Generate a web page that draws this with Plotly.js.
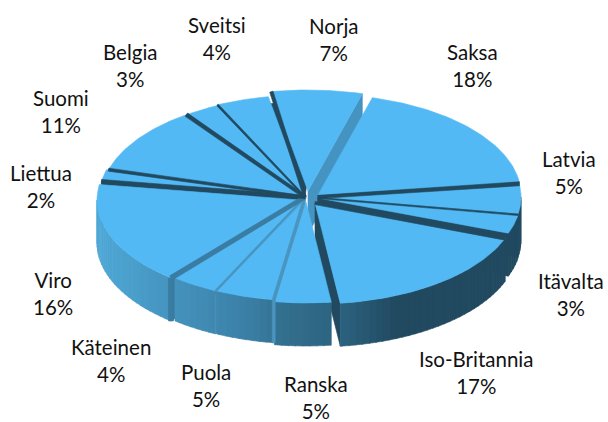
<!DOCTYPE html>
<html><head><meta charset="utf-8">
<script src="https://cdn.plot.ly/plotly-3.0.1.min.js"></script>
<style>html,body{margin:0;padding:0;background:#fff}</style></head>
<body><div id="c" style="width:608px;height:422px"></div>
<script>
// data
const categories = ["Norja","Saksa","Latvia","Itävalta","Iso-Britannia","Ranska","Puola","Käteinen","Viro","Liettua","Suomi","Belgia","Sveitsi"];
const percentLabels = [7,18,5,3,17,5,5,4,16,2,11,3,4];
const shares = [7.2,18.6,4.75,3.0,17.35,4.45,4.7,3.8,16.5,1.9,10.8,2.75,4.2];

// drawing style
const labelX = [334,472,569,571,476,316,206,111,53,41,61,130,217];
const labelY = [39,65,172,294,372,397,385,360,293,186,111,65,38];
const originX = [308,318,318,318,315,306,305,304,300,302,304,304,305];
const originY = [191,195,197,198,203,202,200,200,200,197,197,197,196];
const gapWidth = [3.5,0,4,1.5,4,0,3,2,5,4,3,4,2];
const startAngle = -10.4, rx = 203, ry = 101, depth = 43;
const hub = [305,197];
const topColor = "#52b9f4";
const stops = [[97,[79,168,214]],[250,[58,126,165]],[280,[51,112,143]],[340,[44,98,128]],[395,[33,74,97]],[608,[33,74,97]]];

function rimColor(x){
  for(let i=1;i<stops.length;i++){
    if(x<=stops[i][0]){
      const [x0,c0]=stops[i-1],[x1,c1]=stops[i];
      const t=Math.max(0,(x-x0)/(x1-x0));
      return "rgb("+c0.map((v,k)=>Math.round(v+(c1[k]-v)*t)).join(",")+")";
    }
  }
  return "rgb(33,74,97)";
}
function faceColor(a){
  a=((a%360)+360)%360;
  if(a<60) return "#4593c0";
  if(a<180) return "#214a61";
  if(a<212) return "#4a94bf";
  if(a<240) return "#3a7ca2";
  return "#214a61";
}
const rad=d=>d*Math.PI/180;
const total=shares.reduce((a,b)=>a+b,0);
let ang=startAngle;
const slices=categories.map((n,i)=>{
  const a0=ang,a1=ang+shares[i]/total*360; ang=a1;
  return {i,a0,a1,m:(a0+a1)/2,ox:originX[i],oy:originY[i]};
});
const order=slices.slice().sort((p,q)=>(-Math.cos(rad(p.m)))-(-Math.cos(rad(q.m))));

const traces=[];
function poly(xs,ys,color){
  traces.push({type:"scatter",mode:"lines",x:xs.concat(xs[0]),y:ys.concat(ys[0]),fill:"toself",fillcolor:color,
    line:{color:color,width:0.6},hoverinfo:"skip",showlegend:false});
}
// dark backing behind the rear slices, so that the gaps between them read as side faces
{
  const xs=[hub[0]],ys=[hub[1]];
  for(let a=-90;a<=5;a+=2){xs.push(hub[0]+(rx-6)*Math.sin(rad(a)));ys.push(hub[1]-(ry-6)*Math.cos(rad(a)));}
  poly(xs,ys,"#214a61");
}
const px=(s,a)=>s.ox+rx*Math.sin(rad(a)), py=(s,a)=>s.oy-ry*Math.cos(rad(a));
for(const s of order){
  // radial side face that looks at the viewer
  const faces=[];
  if(s.a1<=180) faces.push(s.a1);
  if(s.a0>=180) faces.push(s.a0);
  for(const a of faces){
    poly([s.ox,px(s,a),px(s,a),s.ox],[s.oy,py(s,a),py(s,a)+depth,s.oy+depth],faceColor(a));
  }
  // outer rim, visible on the front half only
  const lo=Math.max(s.a0,90), hi=Math.min(s.a1,270);
  for(let a=lo;a<hi;a+=2){
    const b=Math.min(a+2.2,hi);
    poly([px(s,a),px(s,b),px(s,b),px(s,a)],[py(s,a),py(s,b),py(s,b)+depth,py(s,a)+depth],rimColor((px(s,a)+px(s,b))/2));
  }
  // top face
  const xs=[s.ox],ys=[s.oy];
  for(let a=s.a0;a<s.a1;a+=1){xs.push(px(s,a));ys.push(py(s,a));}
  xs.push(px(s,s.a1));ys.push(py(s,s.a1));
  poly(xs,ys,topColor);
}
// separating stripes along the slice boundaries
for(const s of slices){
  const w=gapWidth[s.i]; if(!w) continue;
  const a=s.a0, ex=px(s,a), ey=py(s,a);
  const norm=((a%360)+360)%360;
  const hx=norm<180?s.ox:hub[0], hy=norm<180?s.oy:hub[1];
  const dx=ex-hx, dy=ey-hy, L=Math.hypot(dx,dy), nx=-dy/L, ny=dx/L;
  const c=faceColor(a);
  poly([hx+nx*w*0.4,ex+nx*w/2,ex-nx*w/2,hx-nx*w*0.4],[hy+ny*w*0.4,ey+ny*w/2,ey-ny*w/2,hy-ny*w*0.4],c);
  if(norm>180&&norm<270&&w>=3){
    poly([ex-w/2,ex+w/2,ex+w/2,ex-w/2],[ey,ey,ey+depth,ey+depth],c);
  }
}
const annotations=categories.map((n,i)=>({x:labelX[i],y:labelY[i],xref:"x",yref:"y",showarrow:false,
  text:n+"<br>"+percentLabels[i]+"%",align:"center",xanchor:"center",yanchor:"middle"}));
Plotly.newPlot("c",traces,{
  width:608,height:422,margin:{l:0,r:0,t:0,b:0},paper_bgcolor:"#fff",plot_bgcolor:"#fff",showlegend:false,
  font:{family:"Lato, 'Open Sans', sans-serif",size:20.5,color:"#111"},
  xaxis:{range:[0,608],visible:false,fixedrange:true},
  yaxis:{range:[422,0],visible:false,fixedrange:true},
  annotations
},{displayModeBar:false,staticPlot:true});
</script></body></html>
